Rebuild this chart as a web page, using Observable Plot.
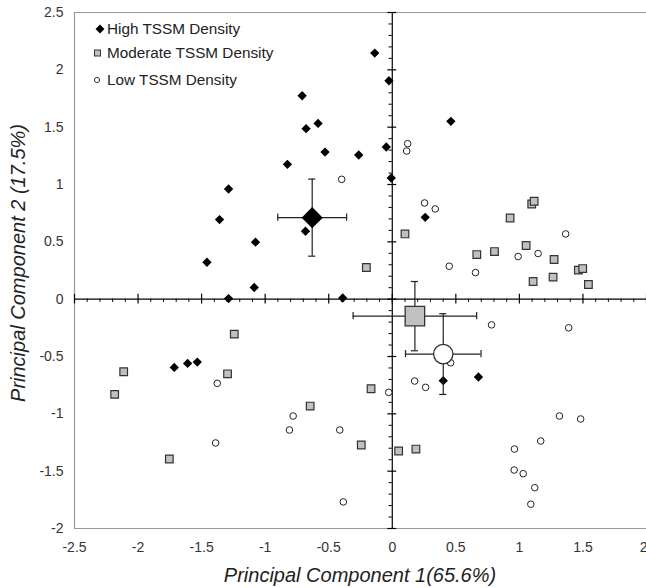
<!DOCTYPE html>
<html><head><meta charset="utf-8">
<script src="https://cdn.jsdelivr.net/npm/d3@7"></script>
<script src="https://cdn.jsdelivr.net/npm/@observablehq/plot@0.6"></script>
<style>
body{margin:0;background:#fff;font-family:"Liberation Sans",Arial,sans-serif;}
#wrap{position:relative;width:646px;height:588px;overflow:hidden}
#chart svg{display:block;overflow:visible}
.lg{position:absolute;left:92px;height:20px;display:flex;align-items:center;font-size:15.3px;color:#222;white-space:nowrap}
.lg svg{width:15px;height:20px;display:block}
.ttl{position:absolute;font-size:20px;font-style:italic;color:#222;white-space:nowrap}
</style></head>
<body>
<div id="wrap">
<div id="chart"></div>
<div class="lg" style="top:19px"><svg viewBox="0 0 15 20"><path d="M8,5.5 L12.5,10 L8,14.5 L3.5,10 Z" fill="#000"/></svg>High TSSM Density</div>
<div class="lg" style="top:43px"><svg viewBox="0 0 15 20"><rect x="2.5" y="7" width="6" height="6" fill="#c0c0c0" stroke="#333" stroke-width="1"/></svg>Moderate TSSM Density</div>
<div class="lg" style="top:70px"><svg viewBox="0 0 15 20"><circle cx="5" cy="10" r="2.6" fill="#fff" stroke="#333" stroke-width="1"/></svg>Low TSSM Density</div>
<div class="ttl" id="xt" style="left:360px;top:564px;transform:translateX(-50%)">Principal Component 1(65.6%)</div>
<div class="ttl" id="yt" style="left:18px;top:263px;transform:translate(-50%,-50%) rotate(-90deg)">Principal Component 2 (17.5%)</div>
</div>
<script>
// ---- data ----
const highX = [-0.709,-0.678,-0.584,-0.529,-0.825,-1.288,-1.359,-1.076,-1.458,-1.086,-1.288,-0.683,-0.138,-0.026,-0.264,-0.047,-0.008,0.461,0.259,-0.390,0.401,0.678,-1.715,-1.610,-1.534];
const highY = [1.774,1.487,1.533,1.283,1.176,0.961,0.694,0.497,0.322,0.102,0.005,0.592,2.146,1.905,1.257,1.327,1.057,1.551,0.714,0.010,-0.711,-0.679,-0.595,-0.560,-0.549];

const modX = [-0.204,0.100,0.665,0.804,0.927,1.097,1.116,1.053,1.273,1.108,1.265,1.464,1.498,1.543,-0.167,-0.244,0.050,0.186,-1.243,-2.113,-2.184,-1.296,-1.754,-0.646];
const modY = [0.276,0.569,0.389,0.415,0.708,0.830,0.854,0.468,0.346,0.154,0.192,0.253,0.267,0.128,-0.781,-1.272,-1.324,-1.307,-0.305,-0.633,-0.830,-0.651,-1.394,-0.932];

const lowX = [-0.398,0.121,0.113,0.254,0.338,0.448,0.655,0.990,1.147,1.364,0.781,1.388,0.459,0.176,0.262,-0.028,-0.413,-0.385,1.315,1.482,1.168,0.961,0.959,1.030,1.121,1.090,-1.377,-1.390,-0.780,-0.809];
const lowY = [1.045,1.356,1.292,0.839,0.787,0.287,0.232,0.372,0.398,0.569,-0.224,-0.250,-0.555,-0.714,-0.769,-0.813,-1.141,-1.768,-1.019,-1.045,-1.237,-1.307,-1.490,-1.522,-1.644,-1.788,-0.734,-1.254,-1.019,-1.141];

const groups = ["High", "Moderate", "Low"];
const meanX = [-0.630, 0.178, 0.401];
const meanY = [0.711, -0.148, -0.479];
const errX = [0.271, 0.486, 0.297];
const errY = [0.336, 0.302, 0.352];

const xTicks = [-2.5,-2,-1.5,-1,-0.5,0,0.5,1,1.5,2];
const yTicks = [-2,-1.5,-1,-0.5,0,0.5,1,1.5,2,2.5];
const xMinor = [-2.4,-2.3,-2.2,-2.1,-1.9,-1.8,-1.7,-1.6,-1.4,-1.3,-1.2,-1.1,-0.9,-0.8,-0.7,-0.6,-0.4,-0.3,-0.2,-0.1,0.1,0.2,0.3,0.4,0.6,0.7,0.8,0.9,1.1,1.2,1.3,1.4,1.6,1.7,1.8,1.9];
const yMinor = [-1.9,-1.8,-1.7,-1.6,-1.4,-1.3,-1.2,-1.1,-0.9,-0.8,-0.7,-0.6,-0.4,-0.3,-0.2,-0.1,0.1,0.2,0.3,0.4,0.6,0.7,0.8,0.9,1.1,1.2,1.3,1.4,1.6,1.7,1.8,1.9,2.1,2.2,2.3,2.4];

// ---- tables built from arrays ----
const high = highX.map((x,i)=>({x, y: highY[i]}));
const mod = modX.map((x,i)=>({x, y: modY[i]}));
const low = lowX.map((x,i)=>({x, y: lowY[i]}));
const means = groups.map((g,i)=>({g, x: meanX[i], y: meanY[i], ex: errX[i], ey: errY[i]}));

const capX = 0.028, capY = 0.031;
const fmt = d => String(d);
const lastX = xTicks[xTicks.length - 1];

const chart = Plot.plot({
  width: 646, height: 588,
  marginLeft: 74, marginRight: 0, marginTop: 12, marginBottom: 60,
  style: {fontFamily: '"Liberation Sans", Arial, sans-serif', fontSize: "14px", background: "#fff", overflow: "visible"},
  x: {domain: [-2.5, 2], axis: null},
  y: {domain: [-2, 2.5], axis: null},
  marks: [
    // frame (left, top, bottom)
    Plot.ruleX([-2.5], {stroke: "#9a9a9a", strokeWidth: 1.2}),
    Plot.ruleY([2.5, -2], {stroke: "#9a9a9a", strokeWidth: 1.2}),
    // tick labels
    Plot.axisX(xTicks.filter(d => d !== lastX), {tickSize: 0, tickPadding: 14, tickFormat: fmt, fill: "#333", fontSize: 14, label: null}),
    Plot.axisX([lastX], {tickSize: 0, tickPadding: 14, tickFormat: fmt, fill: "#333", fontSize: 14, label: null, textAnchor: "end", dx: 1}),
    Plot.axisY(yTicks, {tickSize: 0, tickPadding: 11, tickFormat: fmt, fill: "#333", fontSize: 14, label: null}),
    // zero axes
    Plot.ruleY([0], {stroke: "#000", strokeWidth: 1.2}),
    Plot.ruleX([0], {stroke: "#000", strokeWidth: 1.2}),
    Plot.ruleX(xTicks, {x: d => d, y1: -0.042, y2: 0.042, stroke: "#000", strokeWidth: 1.2}),
    Plot.ruleX(xMinor, {x: d => d, y1: -0.028, y2: 0, stroke: "#000", strokeWidth: 1}),
    Plot.ruleY(yTicks, {y: d => d, x1: -0.035, x2: 0.035, stroke: "#000", strokeWidth: 1.2}),
    Plot.ruleY(yMinor, {y: d => d, x1: -0.025, x2: 0, stroke: "#000", strokeWidth: 1}),
    // points
    Plot.dot(mod, {x: "x", y: "y", symbol: "square", r: 4.3, fill: "#c0c0c0", stroke: "#333", strokeWidth: 1.2}),
    Plot.dot(low, {x: "x", y: "y", symbol: "circle", r: 3.3, fill: "#fff", stroke: "#222", strokeWidth: 1}),
    Plot.dot(high, {x: "x", y: "y", symbol: "diamond2", r: 4.2, fill: "#000"}),
    // error bars
    Plot.ruleX(means, {x: "x", y1: d => d.y - d.ey, y2: d => d.y + d.ey, stroke: "#222", strokeWidth: 1.2}),
    Plot.ruleY(means, {y: "y", x1: d => d.x - d.ex, x2: d => d.x + d.ex, stroke: "#222", strokeWidth: 1.2}),
    Plot.ruleY(means, {y: d => d.y - d.ey, x1: d => d.x - capX, x2: d => d.x + capX, stroke: "#222", strokeWidth: 1.2}),
    Plot.ruleY(means, {y: d => d.y + d.ey, x1: d => d.x - capX, x2: d => d.x + capX, stroke: "#222", strokeWidth: 1.2}),
    Plot.ruleX(means, {x: d => d.x - d.ex, y1: d => d.y - capY, y2: d => d.y + capY, stroke: "#222", strokeWidth: 1.2}),
    Plot.ruleX(means, {x: d => d.x + d.ex, y1: d => d.y - capY, y2: d => d.y + capY, stroke: "#222", strokeWidth: 1.2}),
    // mean markers
    Plot.dot(means.filter(d => d.g === "Moderate"), {x: "x", y: "y", symbol: "square", r: 11, fill: "#c0c0c0", stroke: "#333", strokeWidth: 1.3}),
    Plot.dot(means.filter(d => d.g === "Low"), {x: "x", y: "y", symbol: "circle", r: 9.7, fill: "#fff", stroke: "#333", strokeWidth: 1.3}),
    Plot.dot(means.filter(d => d.g === "High"), {x: "x", y: "y", symbol: "diamond2", r: 9.5, fill: "#000"})
  ]
});
document.getElementById("chart").appendChild(chart);
</script>
</body></html>
